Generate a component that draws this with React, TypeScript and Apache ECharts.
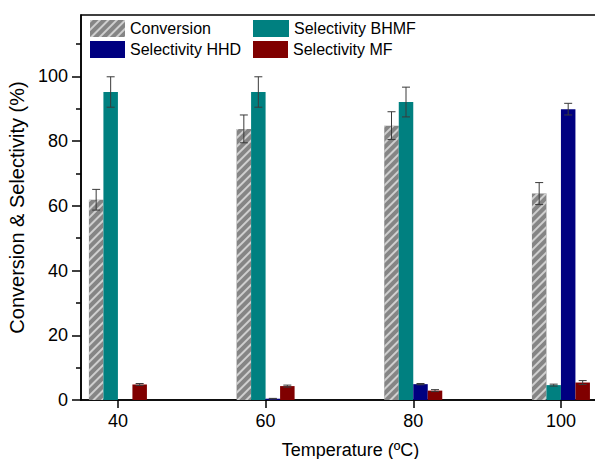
import React, { useEffect, useRef } from "react";
import * as echarts from "echarts";

const temperatures = [40, 60, 80, 100];
const conversion = [61.9, 83.8, 84.8, 63.8];
const conversionErr = [3.2, 4.3, 4.3, 3.4];
const selBHMF = [95.2, 95.2, 92.1, 4.6];
const selBHMFErr = [4.7, 4.7, 4.6, 0.3];
const selHHD = [0, 0.4, 4.9, 89.9];
const selHHDErr = [0, 0.1, 0.2, 1.8];
const selMF = [4.8, 4.3, 2.9, 5.4];
const selMFErr = [0.3, 0.3, 0.3, 0.6];
const yMajorTicks = [0, 20, 40, 60, 80, 100];
const yMinorTicks = [10, 30, 50, 70, 90, 110];

const seriesNames = ["Conversion", "Selectivity BHMF", "Selectivity HHD", "Selectivity MF"];
const seriesValues = [conversion, selBHMF, selHHD, selMF];
const seriesErrors = [conversionErr, selBHMFErr, selHHDErr, selMFErr];
const seriesColors = ["#858585", "#008080", "#000080", "#800000"];

const BAR_W = 14.5;
const FONT = "'Liberation Sans', Arial, sans-serif";

export default function App() {
  const ref = useRef<HTMLDivElement>(null);
  useEffect(() => {
    if (!ref.current) return;
    const chart = echarts.init(ref.current, null, { renderer: "svg" });

    const barSeries: any[] = seriesNames.map((name, i) => ({
      name,
      type: "bar",
      xAxisIndex: 0,
      yAxisIndex: 0,
      barWidth: BAR_W,
      barGap: "0%",
      data: temperatures.map((t, j) => [t, seriesValues[i][j]]),
      itemStyle: {
        color: seriesColors[i],
        decal:
          i === 0
            ? {
                symbol: "rect",
                symbolSize: 1,
                color: "rgba(215,215,215,0.9)",
                dashArrayX: [1, 0],
                dashArrayY: [1.2, 3.8],
                rotation: -Math.PI / 4,
              }
            : undefined,
      },
      z: 2,
    }));

    const errSeries: any[] = seriesNames.map((name, i) => ({
      name: name + " err",
      type: "custom",
      xAxisIndex: 0,
      yAxisIndex: 0,
      z: 5,
      silent: true,
      encode: { x: 0, y: 1 },
      data: temperatures.map((t, j) => [t, seriesValues[i][j], seriesErrors[i][j]]),
      renderItem: (params: any, api: any) => {
        const x = api.value(0);
        const v = api.value(1);
        const e = api.value(2);
        if (!e) return null;
        const top = api.coord([x, v + e]);
        const bot = api.coord([x, v - e]);
        const cx = top[0] + (i - 1.5) * BAR_W;
        const half = 4;
        const style = { stroke: "#3a3a3a", lineWidth: 1 };
        return {
          type: "group",
          children: [
            { type: "line", shape: { x1: cx, y1: top[1], x2: cx, y2: bot[1] }, style },
            { type: "line", shape: { x1: cx - half, y1: top[1], x2: cx + half, y2: top[1] }, style },
            { type: "line", shape: { x1: cx - half, y1: bot[1], x2: cx + half, y2: bot[1] }, style },
          ],
        };
      },
    }));

    const legendPos = [
      { left: 90, top: 20, w: 35 },
      { left: 253, top: 20, w: 36 },
      { left: 90, top: 41, w: 35 },
      { left: 253, top: 41, w: 35 },
    ];

    chart.setOption({
      animation: false,
      backgroundColor: "#ffffff",
      textStyle: { fontFamily: FONT },
      grid: {
        left: 81,
        top: 15,
        right: 20,
        bottom: 59,
        show: true,
        borderColor: "#000",
        borderWidth: 1.5,
        containLabel: false,
        outerBoundsMode: "none",
      },
      legend: legendPos.map((p, i) => ({
        data: [{ name: seriesNames[i], icon: "rect" }],
        left: p.left,
        top: p.top,
        padding: 0,
        itemWidth: p.w,
        itemHeight: 17,
        itemGap: 0,
        selectedMode: false,
        textStyle: { fontSize: 16, color: "#000", fontFamily: FONT },
      })),
      xAxis: {
        type: "value",
        min: 35,
        max: 108,
        name: "Temperature (ºC)",
        nameLocation: "middle",
        nameGap: 41,
        nameTextStyle: { fontSize: 18, color: "#000", fontFamily: FONT },
        axisLine: { show: true, lineStyle: { color: "#000", width: 1.5 } },
        axisTick: { show: true, length: 8, customValues: temperatures, lineStyle: { color: "#000", width: 1.5 } },
        axisLabel: { customValues: temperatures, fontSize: 18, color: "#000", margin: 12, fontFamily: FONT },
        splitLine: { show: false },
      },
      yAxis: [
        {
          type: "value",
          min: 0,
          max: 119,
          name: "Conversion & Selectivity (%)",
          nameLocation: "middle",
          nameGap: 46,
          nameTextStyle: { fontSize: 20, color: "#000", fontFamily: FONT },
          axisLine: { show: true, lineStyle: { color: "#000", width: 1.5 } },
          axisTick: { show: true, length: 9, customValues: yMajorTicks, lineStyle: { color: "#000", width: 1.5 } },
          axisLabel: { customValues: yMajorTicks, fontSize: 18, color: "#000", margin: 13, fontFamily: FONT },
          splitLine: { show: false },
        },
        {
          type: "value",
          min: 0,
          max: 119,
          position: "left",
          axisLine: { show: false },
          axisTick: { show: true, length: 5, customValues: yMinorTicks, lineStyle: { color: "#000", width: 1.5 } },
          axisLabel: { show: false },
          splitLine: { show: false },
        },
      ],
      series: [...barSeries, ...errSeries],
    });
    return () => chart.dispose();
  }, []);

  return (
    <div
      style={{
        position: "fixed",
        left: 0,
        top: 0,
        width: 595,
        height: 459,
        overflow: "hidden",
        background: "#fff",
      }}
    >
      <div ref={ref} style={{ width: 640, height: 459 }} />
    </div>
  );
}
